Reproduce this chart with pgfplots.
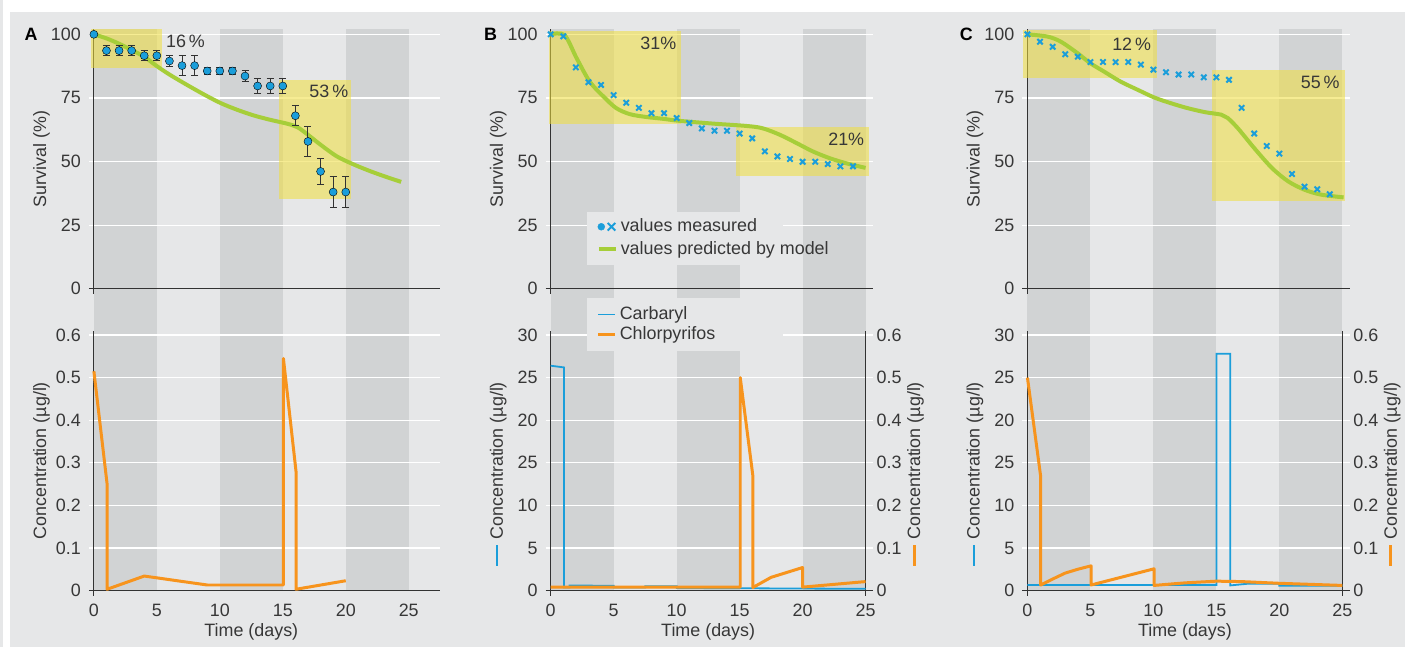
\documentclass[border=0pt]{standalone}
\usepackage{fontspec}
\setmainfont{Liberation Sans}
\usepackage{pgfplots}
\pgfplotsset{compat=1.18}

\definecolor{bgc}{RGB}{230,231,232}
\definecolor{band}{RGB}{209,211,212}
\definecolor{axc}{RGB}{50,50,50}
\definecolor{txt}{RGB}{55,55,55}
\definecolor{cblue}{RGB}{27,158,218}
\definecolor{cgreen}{RGB}{166,206,57}
\definecolor{corange}{RGB}{247,148,29}
\definecolor{yel}{RGB}{240,222,60}

% grey day bands, drawn behind the grid
\newcommand{\bands}[2]{%
  \begin{pgfonlayer}{axis background}
    \fill[band] (axis cs:0,#1) rectangle (axis cs:5,#2);
    \fill[band] (axis cs:10,#1) rectangle (axis cs:15,#2);
    \fill[band] (axis cs:20,#1) rectangle (axis cs:25,#2);
  \end{pgfonlayer}}
\newcommand{\corner}{\draw[axc, line width=1.2bp] ([xshift=-5bp]axis cs:0,0) -- (axis cs:0,0) -- ([yshift=-5bp]axis cs:0,0);}

\pgfplotsset{
  panel/.style={
    set layers, scale only axis, clip=false, anchor=south west,
    axis lines*=left, axis line style={-, draw=axc, line width=1.2bp},
    ymajorgrids, grid style={white, line width=1.2bp},
    tick align=outside, major tick length=5bp,
    ytick style={white, line width=1.2bp}, xtick style={draw=none},
    tick label style={text=txt}, label style={text=txt},
    yticklabel style={xshift=-2bp},
    /pgf/number format/assume math mode=true,
    /pgf/number format/fixed,
    every axis y label/.style={at={(rel axis cs:0,0.5)}, xshift=-52.5bp, rotate=90, anchor=center, text=txt},
  },
  top/.style={panel, height=260bp, ymin=0, ymax=102, ytick={0,25,50,75,100}, xtick=\empty,
    ylabel={Survival (\%)}},
  bot/.style={panel, height=260bp, xtick={0,5,...,25}, xticklabel style={yshift=-2.5bp},
    xlabel={Time (days)},
    every axis x label/.style={at={(rel axis cs:#1,0)}, yshift=-41bp, anchor=center, text=txt}},
  rax/.style={set layers, scale only axis, clip=false, anchor=south west,
    height=260bp, width=315.5bp, xmin=0, xmax=25, ymin=0, ymax=0.6094,
    axis x line=none, axis y line*=right, axis line style={-, draw=axc, line width=1.2bp},
    ytick={0,0.1,0.2,0.3,0.4,0.5,0.6}, ytick style={draw=none},
    yticklabel style={xshift=5bp, text=txt},
    /pgf/number format/assume math mode=true, /pgf/number format/fixed,
    ylabel={\llap{\textcolor{corange}{\rule[4.5bp]{21bp}{3bp}}\hspace{5bp}}Concentration (µg/l)},
    every axis y label/.style={at={(rel axis cs:1,0.5)}, xshift=50bp, rotate=90, anchor=center, text=txt}},
  leg/.style={legend style={anchor=north west, inner sep=0pt, fill=none, draw=none,
    row sep=#1, nodes={inner xsep=3bp, inner ysep=2bp, text=txt}}, legend cell align=left},
}

\begin{document}
\pagecolor{bgc}
\fontsize{18}{21.6}\selectfont
\begin{tikzpicture}
% white margins at top and left; the rest of the page is bgc
\fill[white] (0,636bp) rectangle (1405bp,648bp);
\fill[white] (0,0) rectangle (7bp,648bp);

% ---------------- A, survival
\begin{axis}[top, at={(91.3bp,358.7bp)}, width=347bp, xmin=0, xmax=27.5]
\bands{-8.3}{102}
\fill[yel, opacity=0.55] (axis cs:-0.24,86.9) rectangle (axis cs:5.44,102.1);
\fill[yel, opacity=0.55] (axis cs:14.72,35.4) rectangle (axis cs:20.42,82.1);
\addplot[cgreen, line width=4bp, smooth] coordinates {(0,100) (1,98.4) (2,96.3) (3,93.8) (4,91.2) (5,87.5) (6,84.2) (7.4,80.1) (8.8,76.2) (10.1,72.9) (11.4,70.3) (12.7,68.1) (14,66.4) (15.4,64.8) (16.2,63.4) (17,60.5) (18,56.6) (19.3,52) (20.7,48.7) (22,46.1) (23.3,43.8) (24.4,42)};
\addplot[only marks, mark=*, mark size=4bp, mark options={draw=none, fill=cblue},
  error bars/.cd, y dir=both, y explicit,
  error bar style={draw=axc, line width=1bp},
  error mark options={rotate=90, draw=axc, mark size=3.5bp, line width=1bp}]
  table[x=x, y=y, y error=e] {
x y e
0 100 0
1 93.6 2
2 93.6 2
3 93.6 2
4 91.6 2
5 91.6 2
6 89.5 2
7 87.7 4
8 87.7 4
9 85.6 1.4
10 85.6 1.4
11 85.6 1.4
12 83.6 2
13 79.7 3
14 79.7 3
15 79.7 3
16 68 4
17 57.9 6
18 46.1 5
19 38 6
20 38 6
};
\node[anchor=west, inner sep=0, text=txt] at (axis cs:5.72,97.1) {16\,\%};
\node[anchor=west, inner sep=0, text=txt] at (axis cs:17.1,77.5) {53\,\%};
\node[font=\bfseries, xshift=-63bp] at (axis cs:0,100) {A};
\corner
\end{axis}

% ---------------- A, concentration
\begin{axis}[bot=0.4545, at={(91.3bp,56.3bp)}, width=347bp, xmin=0, xmax=27.5,
  ymin=0, ymax=0.6094, ytick={0,0.1,0.2,0.3,0.4,0.5,0.6},
  ylabel={Concentration (µg/l)}]
\bands{0}{0.659}
\addplot[corange, line width=3bp, line join=round] coordinates {(0,0.515) (1.05,0.25) (1.05,0.003) (4,0.034) (9,0.013) (15.05,0.013) (15.05,0.545) (16.05,0.28) (16.05,0.003) (20,0.023)};
\corner
\end{axis}

% ---------------- B, survival
\begin{axis}[top, at={(549bp,358.7bp)}, width=323.1bp, xmin=0, xmax=25.6,
  leg=3bp, legend style={at={(axis cs:3.645,28.3)}}]
\bands{-8.3}{102}
\fill[bgc] (axis cs:2.85,9.25) rectangle (axis cs:18.44,30.04);
\fill[yel, opacity=0.55] (axis cs:-0.1,64.7) rectangle (axis cs:10.38,101.3);
\fill[yel, opacity=0.55] (axis cs:14.74,44.5) rectangle (axis cs:25.25,63.6);
\addlegendimage{legend image code/.code={\fill[cblue] (2.5bp,0) circle (3.5bp);
  \draw[cblue, line width=2bp] (9bp,-3.8bp) -- (16.6bp,3.8bp) (9bp,3.8bp) -- (16.6bp,-3.8bp);}}
\addlegendentry{values measured}
\addlegendimage{legend image code/.code={\draw[cgreen, line width=4bp] (0,0) -- (17bp,0);}}
\addlegendentry{values predicted by model}
\addplot[cgreen, line width=4bp, smooth, forget plot] coordinates {(0,100) (1.1,99.7) (2.06,90.6) (3.1,81.4) (4.2,75.5) (5.2,71) (6.3,68.6) (7.6,67.5) (8.9,66.8) (10.2,66) (12.9,64.9) (15.5,64) (16.8,63.1) (18.2,60.5) (19.5,57.3) (20.8,54) (22.1,51.4) (23.4,49.4) (25,47.5)};
\addplot[only marks, mark=x, mark size=3.8bp, cblue, line width=2bp, forget plot] coordinates {(0,100) (1,99.2) (2,87) (3,81.2) (4,80.1) (5,76.1) (6,73.1) (7,71.1) (8,69) (9,69) (10,67.1) (11,65.1) (12,63) (13,62.1) (14,62.1) (15,61) (16,59.1) (17,54) (18,52) (19,51) (20,49.9) (21,49.9) (22,49) (23,48.1) (24,48.1)};
\node[anchor=east, inner sep=0, text=txt] at (axis cs:9.98,96.5) {31\%};
\node[anchor=east, inner sep=0, text=txt] at (axis cs:24.9,58.9) {21\%};
\node[font=\bfseries, xshift=-60.2bp] at (axis cs:0,100) {B};
\corner
\end{axis}

% ---------------- B, concentration
\begin{axis}[bot=0.4883, at={(549bp,56.3bp)}, width=323.1bp, xmin=0, xmax=25.6,
  ymin=0, ymax=30.47, ytick={0,5,10,15,20,25,30}, yticklabels={0,5,10,25,20,25,30},
  ylabel={\llap{\textcolor{cblue}{\rule[5bp]{21bp}{2bp}}\hspace{5bp}}Concentration (µg/l)},
  leg=0bp, legend style={at={(axis cs:3.645,33.6)}}]
\bands{0}{32.95}
\fill[bgc] (axis cs:2.85,28.13) rectangle (axis cs:18.44,34.3);
\addlegendimage{legend image code/.code={\draw[cblue, line width=1.8bp] (0,0) -- (17bp,0);}}
\addlegendentry{Carbaryl}
\addlegendimage{legend image code/.code={\draw[corange, line width=3bp] (0,0) -- (17bp,0);}}
\addlegendentry{Chlorpyrifos}
\addplot[cblue, line width=1.8bp, forget plot] coordinates {(0,26.4) (1.05,26.2) (1.05,0.35) (1.5,0.35) (1.5,0.6) (5,0.55) (5,0.35) (7.5,0.35) (7.5,0.5) (10,0.5) (10,0.3) (25,0.2)};
\draw[axc, line width=1.2bp] (axis cs:25,0) -- ([yshift=-5bp]axis cs:25,0);
\corner
\end{axis}
\begin{axis}[rax, at={(549bp,56.3bp)}]
\addplot[corange, line width=3bp, line join=round] coordinates {(0,0.008) (15.05,0.008) (15.05,0.5) (16.05,0.27) (16.05,0.007) (17.5,0.031) (20,0.054) (20,0.008) (25,0.021)};
\end{axis}

% ---------------- C, survival
\begin{axis}[top, at={(1026.7bp,358.7bp)}, width=323.1bp, xmin=0, xmax=25.6]
\bands{-8.3}{102}
\fill[yel, opacity=0.55] (axis cs:-0.32,82.7) rectangle (axis cs:10.25,101.7);
\fill[yel, opacity=0.55] (axis cs:14.68,34.4) rectangle (axis cs:25.2,86);
\addplot[cgreen, line width=4bp, smooth] coordinates {(0,100) (1.6,99.1) (2.65,97.1) (4,92.5) (5,88.6) (6.1,85.3) (7.4,81.4) (8.75,78.2) (10.1,75.1) (11.4,72.9) (12.7,71) (14.1,69.4) (15.4,68.4) (15.9,67.1) (16.7,63.1) (18,55.3) (19.4,47.5) (20.7,42.2) (22,38.9) (23.3,37) (25.1,35.9)};
\addplot[only marks, mark=x, mark size=3.8bp, cblue, line width=2bp] coordinates {(0,100) (1,97.1) (2,95.1) (3,92.2) (4,91.2) (5,89.1) (6,89.1) (7,89.1) (8,89.1) (9,88.1) (10,86.1) (11,85.1) (12,84.2) (13,84.2) (14,83.1) (15,83.1) (16,82.1) (17,71.1) (18,61) (19,56.1) (20,53.1) (21,45.1) (22,40.1) (23,39.1) (24,37.1)};
\node[anchor=east, inner sep=0, text=txt] at (axis cs:9.83,96.2) {12\,\%};
\node[anchor=east, inner sep=0, text=txt] at (axis cs:24.8,81.2) {55\,\%};
\node[font=\bfseries, xshift=-61.2bp] at (axis cs:0,100) {C};
\corner
\end{axis}

% ---------------- C, concentration
\begin{axis}[bot=0.4883, at={(1026.7bp,56.3bp)}, width=323.1bp, xmin=0, xmax=25.6,
  ymin=0, ymax=30.47, ytick={0,5,10,15,20,25,30}, yticklabels={0,5,10,25,20,25,30},
  ylabel={\llap{\textcolor{cblue}{\rule[5bp]{21bp}{2bp}}\hspace{5bp}}Concentration (µg/l)}]
\bands{0}{32.95}
\addplot[cblue, line width=1.8bp] coordinates {(0,0.65) (15,0.65) (15,27.8) (16.1,27.8) (16.1,0.6) (17.5,0.8) (20,0.8) (20,0.55) (25,0.55)};
\draw[axc, line width=1.2bp] (axis cs:25,0) -- ([yshift=-5bp]axis cs:25,0);
\corner
\end{axis}
\begin{axis}[rax, at={(1026.7bp,56.3bp)}]
\addplot[corange, line width=3bp, line join=round] coordinates {(0,0.5) (1.05,0.268) (1.05,0.013) (2,0.027) (3,0.041) (4,0.05) (5.05,0.058) (5.05,0.013) (10.05,0.051) (10.05,0.012) (12.5,0.018) (15,0.022) (17,0.021) (20,0.017) (25,0.012)};
\end{axis}
\pgfresetboundingbox
\path[use as bounding box] (0,0) rectangle (1405bp,648bp);
\end{tikzpicture}
\end{document}
